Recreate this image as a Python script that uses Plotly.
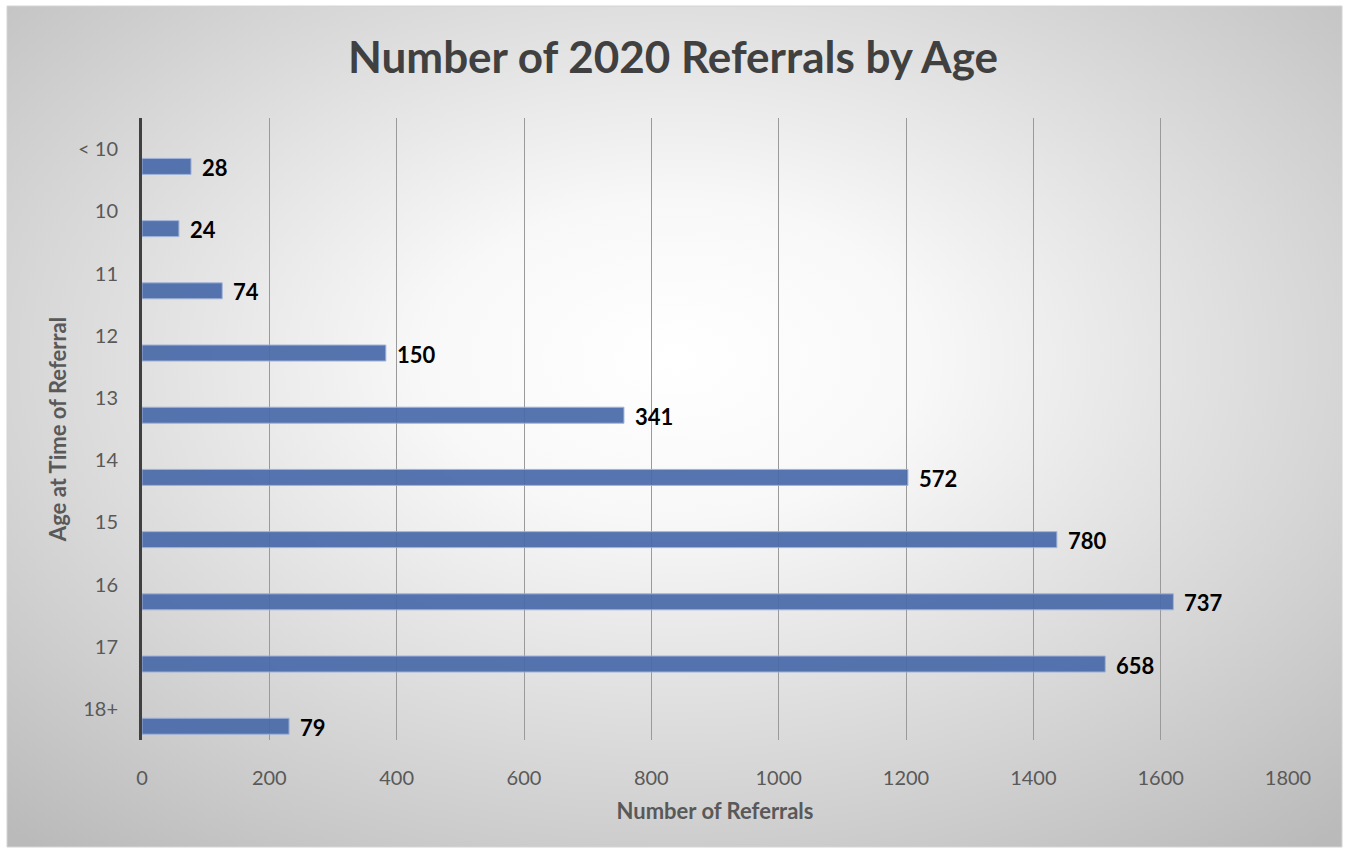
import base64
import plotly.graph_objects as go

# Age groups (top to bottom) and bar lengths on the "Number of Referrals" axis
age_groups = ["< 10", "10", "11", "12", "13", "14", "15", "16", "17", "18+"]
bar_values = [77, 58, 126, 383, 757, 1203, 1437, 1620, 1513, 231]
# Counts printed beside each bar
label_counts = [28, 24, 74, 150, 341, 572, 780, 737, 658, 79]
x_ticks = [0, 200, 400, 600, 800, 1000, 1200, 1400, 1600, 1800]

W, H = 1347, 851
L, R, T, B = 142, 59, 118, 111
plot_w = W - L - R
plot_h = H - T - B

BAR_OFFSET = 0.15
BAR_WIDTH = 0.257

# Radial grey-to-white fill for the chart panel
svg = (
    '<svg xmlns="http://www.w3.org/2000/svg" width="1335" height="841">'
    '<defs><radialGradient id="g" cx="0.5" cy="0.42" r="0.75">'
    '<stop offset="0" stop-color="#ffffff"/>'
    '<stop offset="0.25" stop-color="#f8f8f8"/>'
    '<stop offset="1" stop-color="#bababa"/>'
    '</radialGradient></defs>'
    '<rect width="1335" height="841" fill="url(#g)"/></svg>'
)
svg_uri = "data:image/svg+xml;base64," + base64.b64encode(svg.encode()).decode()

panel_x0, panel_y0, panel_x1, panel_y1 = 7, 6, 1342, 847


def px_to_paper_x(px):
    return (px - L) / plot_w


def px_to_paper_y(py):
    return (H - B - py) / plot_h


fig = go.Figure()
fig.add_trace(
    go.Bar(
        y=age_groups,
        x=bar_values,
        orientation="h",
        offset=BAR_OFFSET,
        width=BAR_WIDTH,
        marker=dict(color="#4a6baa", opacity=0.93, line=dict(color="#9cb0d8", width=1)),
        hoverinfo="skip",
    )
)

annotations = []
for i, (v, c) in enumerate(zip(bar_values, label_counts)):
    annotations.append(
        dict(
            x=v,
            y=i + BAR_OFFSET + BAR_WIDTH / 2,
            xref="x",
            yref="y",
            text=str(c),
            showarrow=False,
            xanchor="left",
            yanchor="middle",
            xshift=9,
            yshift=-1,
            font=dict(family="Lato", size=22, color="#000000", weight="bold"),
        )
    )

fig.update_layout(
    width=W,
    height=H,
    margin=dict(l=L, r=R, t=T, b=B, pad=0),
    paper_bgcolor="#ffffff",
    plot_bgcolor="rgba(0,0,0,0)",
    showlegend=False,
    title=dict(
        text="Number of 2020 Referrals by Age",
        x=673 / W, xref="container", xanchor="center",
        y=1 - 58 / H, yref="container", yanchor="middle",
        font=dict(family="Lato", size=44, color="#404040", weight="bold"),
    ),
    images=[
        dict(
            source=svg_uri,
            xref="paper", yref="paper",
            x=px_to_paper_x(panel_x0), y=px_to_paper_y(panel_y0),
            sizex=(panel_x1 - panel_x0) / plot_w, sizey=(panel_y1 - panel_y0) / plot_h,
            xanchor="left", yanchor="top", sizing="stretch", layer="below",
        )
    ],
    shapes=[
        dict(
            type="rect", xref="paper", yref="paper",
            x0=px_to_paper_x(panel_x0), x1=px_to_paper_x(panel_x1),
            y0=px_to_paper_y(panel_y1), y1=px_to_paper_y(panel_y0),
            line=dict(color="#d4d4d4", width=1), fillcolor="rgba(0,0,0,0)", layer="below",
        )
    ],
    annotations=annotations,
    xaxis=dict(
        range=[0, 1800],
        tickvals=x_ticks,
        showgrid=True,
        gridcolor="#9a9a9a",
        gridwidth=1,
        zeroline=False,
        showline=False,
        ticks="",
        ticklabelstandoff=24,
        tickfont=dict(family="Lato", size=20, color="#595959"),
        title=dict(
            text="Number of Referrals",
            font=dict(family="Lato", size=22, color="#595959", weight="bold"),
            standoff=15,
        ),
    ),
    yaxis=dict(
        type="category",
        categoryorder="array",
        categoryarray=age_groups,
        range=[9.5, -0.5],
        showgrid=False,
        zeroline=False,
        showline=True,
        linecolor="#404040",
        linewidth=3,
        ticks="",
        ticklabelstandoff=17,
        tickfont=dict(family="Lato", size=20, color="#595959"),
        title=dict(
            text="Age at Time of Referral",
            font=dict(family="Lato", size=22, color="#595959", weight="bold"),
            standoff=6,
        ),
    ),
)

fig.write_html("out.html")
